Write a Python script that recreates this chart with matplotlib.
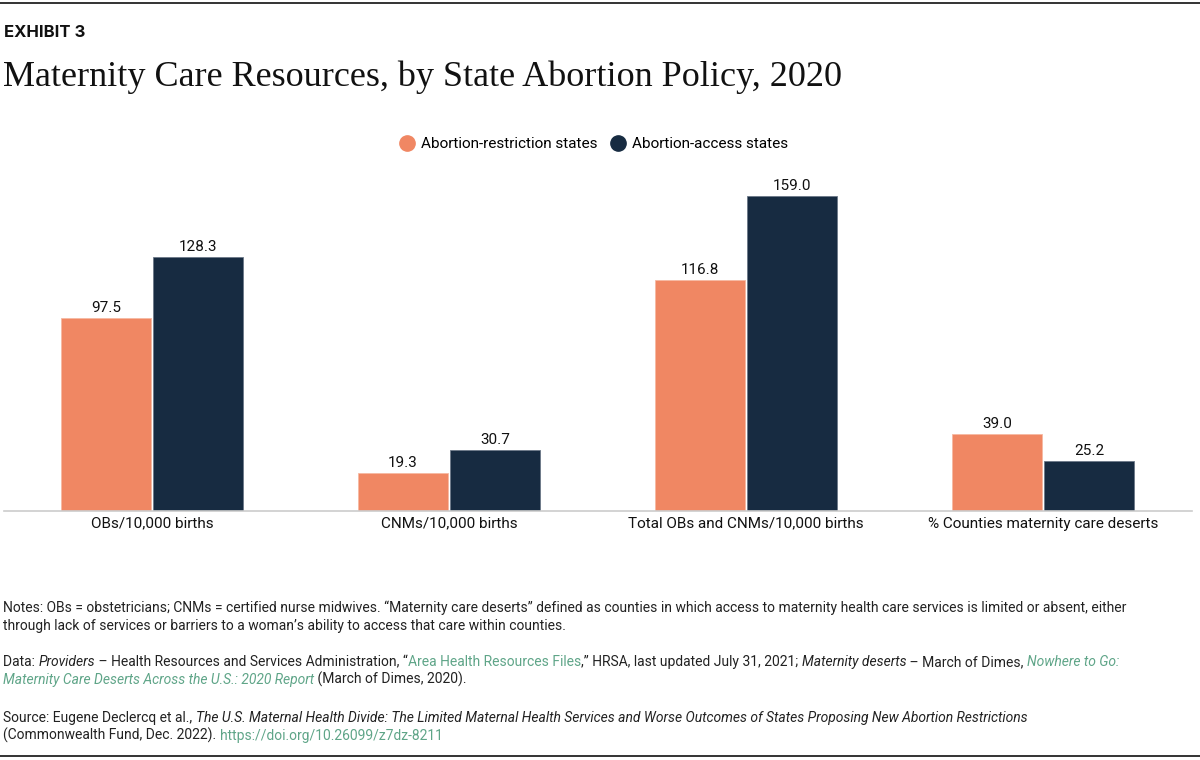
import matplotlib.pyplot as plt
from matplotlib.lines import Line2D
import numpy as np

# Data
categories = ["OBs/10,000 births", "CNMs/10,000 births",
              "Total OBs and CNMs/10,000 births", "% Counties maternity care deserts"]
restriction = [97.5, 19.3, 116.8, 39.0]
access = [128.3, 30.7, 159.0, 25.2]
series_names = ["Abortion-restriction states", "Abortion-access states"]

orange = "#F08763"
navy = "#172B41"
green = "#5FA588"
textc = "#222222"

plt.rcParams['font.family'] = ['Roboto', 'DejaVu Sans']

W, H = 1200, 760
fig = plt.figure(figsize=(12, 7.6), dpi=100)

def fx(px):
    return px / W

def fy(py):
    return 1 - py / H

# Frame lines top and bottom
fig.add_artist(Line2D([0, 1], [fy(3), fy(3)], color="#111111", lw=1.2))
fig.add_artist(Line2D([0, 1], [fy(756), fy(756)], color="#111111", lw=1.2))

fig.text(fx(4), fy(37), "EXHIBIT 3", fontsize=12, fontweight="bold", family="Inter",
         va="baseline", ha="left", color="#111111")
fig.text(fx(3), fy(86), "Maternity Care Resources, by State Abortion Policy, 2020",
         fontsize=26, family="Liberation Serif", va="baseline", ha="left", color="#111111")

# Axes
ax = fig.add_axes([fx(3.5), fy(511), fx(1188), (511 - 180) / H])
x = np.arange(len(categories))
bw = 0.303
off = 0.155
b1 = ax.bar(x - off, restriction, bw, color=orange, edgecolor="#f6b9a2", linewidth=0.6)
b2 = ax.bar(x + off, access, bw, color=navy, edgecolor="#6b7888", linewidth=0.6)
ax.set_xlim(-0.5, 3.5)
ax.set_ylim(0, (511 - 180) / 1.981)
for bars, vals in ((b1, restriction), (b2, access)):
    for r, v in zip(bars, vals):
        ax.annotate(f"{v:.1f}", (r.get_x() + r.get_width() / 2, v),
                    xytext=(0, 2), textcoords="offset points",
                    ha="center", va="bottom", fontsize=11, color="#111111")

for s in ["top", "right", "left"]:
    ax.spines[s].set_visible(False)
ax.spines["bottom"].set_color("#cccccc")
ax.spines["bottom"].set_linewidth(1.2)
ax.set_yticks([])
ax.set_xticks(x)
ax.set_xticklabels(categories, fontsize=11, color="#111111")
ax.tick_params(axis="x", length=0, pad=4)

handles = [Line2D([], [], marker="o", linestyle="none", markersize=11, color=orange),
           Line2D([], [], marker="o", linestyle="none", markersize=11, color=navy)]
fig.legend(handles, series_names, loc="center", bbox_to_anchor=(fx(593), fy(144)),
           ncol=2, frameon=False, fontsize=11, handletextpad=0.3, columnspacing=0.8,
           handlelength=1.2)

# Footnotes with mixed styles
fig.canvas.draw()
renderer = fig.canvas.get_renderer()

def rich_line(segments, x0, base, size=10.0):
    xp = x0
    for txt, style in segments:
        kw = dict(fontsize=size, va="baseline", ha="left", color=textc)
        if "i" in style:
            kw["fontstyle"] = "italic"
        if "g" in style:
            kw["color"] = green
        t = fig.text(fx(xp), fy(base), txt, **kw)
        bb = t.get_window_extent(renderer=renderer)
        xp += bb.width

notes = [
    [("Notes: OBs = obstetricians; CNMs = certified nurse midwives. \u201cMaternity care deserts\u201d defined as counties in which access to maternity health care services is limited or absent, either", "")],
    [("through lack of services or barriers to a woman\u2019s ability to access that care within counties.", "")],
]
data_lines = [
    [("Data: ", ""), ("Providers", "i"), (" \u2013 Health Resources and Services Administration, \u201c", ""),
     ("Area Health Resources Files", "g"), (",\u201d HRSA, last updated July 31, 2021; ", ""),
     ("Maternity deserts", "i"), (" \u2013 March of Dimes, ", ""), ("Nowhere to Go:", "ig")],
    [("Maternity Care Deserts Across the U.S.: 2020 Report", "ig"), (" (March of Dimes, 2020).", "")],
]
source_lines = [
    [("Source: Eugene Declercq et al., ", ""),
     ("The U.S. Maternal Health Divide: The Limited Maternal Health Services and Worse Outcomes of States Proposing New Abortion Restrictions", "i")],
    [("(Commonwealth Fund, Dec. 2022). ", ""), ("https://doi.org/10.26099/z7dz-8211", "g")],
]

for segs, base in zip(notes + data_lines + source_lines, [612, 630, 666, 684, 722, 740]):
    rich_line(segs, 3, base)

fig.savefig("out.png", dpi=100)
